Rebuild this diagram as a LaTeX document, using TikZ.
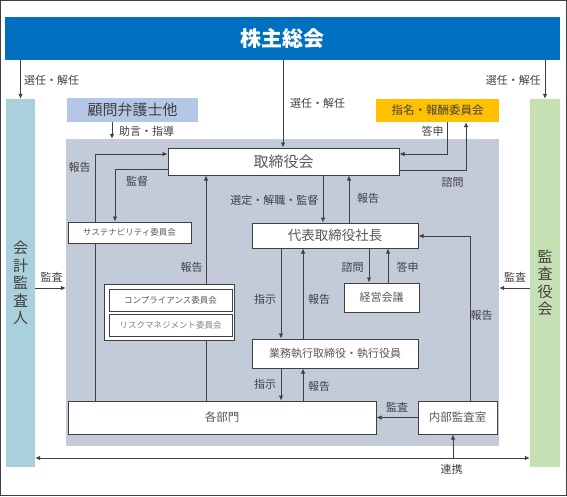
\documentclass[tikz,border=0pt]{standalone}
\usepackage{fontspec}
\setmainfont{Noto Sans CJK JP}
\usetikzlibrary{arrows.meta,positioning}

\definecolor{kabublue}{HTML}{0070C0}
\definecolor{auditblue}{HTML}{A9D0DB}
\definecolor{kansagreen}{HTML}{C5E0B3}
\definecolor{advisorblue}{HTML}{B4C7E7}
\definecolor{nomorange}{HTML}{FFC000}
\definecolor{areagray}{HTML}{C3CAD8}
\definecolor{linegray}{HTML}{404040}
\definecolor{textgray}{HTML}{595959}

\begin{document}
\begin{tikzpicture}[x=1pt,y=-1pt,>={Latex[length=5pt,width=4.5pt]}]
  \tikzstyle{box}=[draw=linegray,fill=white,line width=1pt,inner sep=0pt,text=textgray]
  \tikzstyle{bar}=[inner sep=0pt,minimum height=368pt,align=center,text=linegray,
    font=\fontsize{15}{17.5}\selectfont]
  \tikzstyle{lab}=[inner sep=0pt,text=linegray,font=\fontsize{11}{12}\selectfont]
  \tikzstyle{small}=[font=\fontsize{8.5}{10}\selectfont]
  \tikzstyle{conn}=[draw=linegray,line width=0.8pt]

  \useasboundingbox (0,0) rectangle (567,496);
  \draw[linegray,line width=1pt] (0.5,0.5) rectangle (566.5,495.5);

  % outside the board
  \node[fill=kabublue,text=white,inner sep=0pt,minimum width=555pt,minimum height=43pt,
    font=\fontsize{21}{24}\selectfont\bfseries] (meeting) at (282.5,38.5) {株主総会};
  \node[bar,fill=auditblue,minimum width=29pt] (auditor) at (20.5,283) {会\\計\\監\\査\\人};
  \node[bar,fill=kansagreen,minimum width=30pt] (kansa) at (545,283) {監\\査\\役\\会};
  \node[fill=advisorblue,inner sep=0pt,minimum width=131pt,minimum height=24pt,text=linegray,
    font=\fontsize{15}{17}\selectfont] (advisor) at (132.5,110) {顧問弁護士他};
  \node[fill=nomorange,inner sep=0pt,minimum width=123pt,minimum height=23pt,text=linegray,
    font=\fontsize{11.5}{13}\selectfont] (nomination) at (437.5,110.5) {指名・報酬委員会};

  % governance area
  \node[fill=areagray,inner sep=0pt,minimum width=433pt,minimum height=307pt] (area) at (282.5,292.5) {};
  \node[box,minimum width=231pt,minimum height=27pt,font=\fontsize{15}{17}\selectfont] (board) at (283.5,161.5) {取締役会};
  \node[box,small,minimum width=123pt,minimum height=21pt] (sustain) at (129.5,232.5) {サステナビリティ委員会};
  \node[box,minimum width=166pt,minimum height=25pt,font=\fontsize{13.5}{15}\selectfont] (president) at (335,235.5) {代表取締役社長};
  \node[box,minimum width=75pt,minimum height=29pt,font=\fontsize{11}{13}\selectfont] (mgmt) at (381.5,297.5) {経営会議};
  \node[box,minimum width=130pt,minimum height=56pt] (riskgroup) at (169,312) {};
  \node[box,small,minimum width=123pt,minimum height=22pt] (compliance) at (170.5,300) {コンプライアンス委員会};
  \node[box,small,minimum width=123pt,minimum height=22pt,text=gray] (risk) at (170.5,325) {リスクマネジメント委員会};
  \node[box,minimum width=166pt,minimum height=29pt,font=\fontsize{11}{13}\selectfont] (executive) at (335,353.5) {業務執行取締役・執行役員};
  \node[box,minimum width=308pt,minimum height=33pt,font=\fontsize{11.5}{13}\selectfont] (divisions) at (222,417.5) {各部門};
  \node[box,minimum width=79pt,minimum height=33pt,font=\fontsize{11.5}{13}\selectfont] (internal) at (457.5,417.5) {内部監査室};

  % bends
  \coordinate (toushinbend) at (447,154);
  \coordinate (shimonbend) at (466,170);
  \coordinate (reportbend) at (95,154);
  \coordinate (superbend) at (115,169);
  \coordinate (auditbend) at (470,236);
  \coordinate (linkpoint) at (453,458);

  % connectors
  \draw[conn,->] (meeting.south -| auditor) -- (auditor.north);
  \draw[conn,->] (meeting.south -| kansa) -- (kansa.north);
  \draw[conn,->] (283,0 |- meeting.south) -- (283,0 |- board.north);
  \draw[conn,->] (112,0 |- advisor.south) -- (112,0 |- area.north);
  \draw[conn,->] (toushinbend |- nomination.south) -- (toushinbend) -- (toushinbend -| board.east);
  \draw[conn,->] (shimonbend -| board.east) -- (shimonbend) -- (shimonbend |- nomination.south);
  \draw[conn,->] (reportbend |- sustain.north) -- (reportbend) -- (reportbend -| board.west);
  \draw[conn,->] (superbend -| board.west) -- (superbend) -- (superbend |- sustain.north);
  \draw[conn] (reportbend |- sustain.south) -- (reportbend |- divisions.north);
  \draw[conn,->] (206,0 |- riskgroup.north) -- (206,0 |- board.south);
  \draw[conn] (206,0 |- riskgroup.south) -- (206,0 |- divisions.north);
  \draw[conn,->] (auditor.east |- 0,288) -- (area.west |- 0,288);
  \draw[conn,->] (kansa.west |- 0,288) -- (area.east |- 0,288);
  \draw[conn,->] (323,0 |- board.south) -- (323,0 |- president.north);
  \draw[conn,->] (349,0 |- president.north) -- (349,0 |- board.south);
  \draw[conn,->] (369,0 |- president.south) -- (369,0 |- mgmt.north);
  \draw[conn,->] (388,0 |- mgmt.north) -- (388,0 |- president.south);
  \draw[conn,->] (281,0 |- president.south) -- (281,0 |- executive.north);
  \draw[conn,->] (303,0 |- executive.north) -- (303,0 |- president.south);
  \draw[conn,->] (281,0 |- executive.south) -- (281,0 |- divisions.north);
  \draw[conn,->] (303,0 |- divisions.north) -- (303,0 |- executive.south);
  \draw[conn,->] (auditbend |- internal.north) -- (auditbend) -- (auditbend -| president.east);
  \draw[conn,->] (internal.west) -- (divisions.east |- internal.west);
  \draw[conn,<->] (auditor.east |- linkpoint) -- (kansa.west |- linkpoint);
  \draw[conn,->] (linkpoint) -- (linkpoint |- internal.south);

  % labels
  \node[lab,anchor=west] (selectleft) at (24,80) {選任・解任};
  \node[lab,anchor=east] (selectright) at (541,80) {選任・解任};
  \node[lab,anchor=west] (selectboard) at (290,103) {選任・解任};
  \node[lab,anchor=west] (advice) at (119,131) {助言・指導};
  \node[lab] (toushinnom) at (432.5,131) {答申};
  \node[lab] (shimonnom) at (452.5,182) {諮問};
  \node[lab] (reportsus) at (79.5,167) {報告};
  \node[lab] (supervise) at (137,181) {監督};
  \node[lab] (reportrisk) at (191.5,267) {報告};
  \node[lab] (auditleft) at (51.5,277) {監査};
  \node[lab,anchor=east] (appoint) at (318.5,200) {選定・解職・監督};
  \node[lab] (reportpres) at (368,198) {報告};
  \node[lab] (shimonmgmt) at (352.5,267) {諮問};
  \node[lab] (toushinmgmt) at (407.5,267) {答申};
  \node[lab] (auditright) at (515,277) {監査};
  \node[lab] (ordertop) at (265,299) {指示};
  \node[lab] (reporttop) at (319,299) {報告};
  \node[lab] (orderlow) at (265,384) {指示};
  \node[lab] (reportlow) at (319,386) {報告};
  \node[lab] (reportint) at (481.5,315) {報告};
  \node[lab] (auditint) at (397,407) {監査};
  \node[lab] (link) at (451.5,469) {連携};
\end{tikzpicture}
\end{document}
